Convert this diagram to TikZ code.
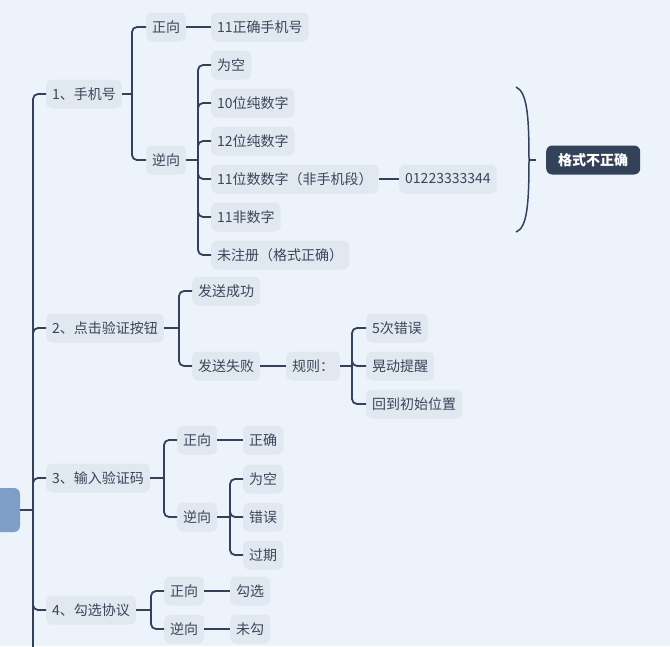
\documentclass[tikz,border=0pt]{standalone}
\usepackage{fontspec}
\setmainfont{Noto Sans CJK SC}
\usetikzlibrary{positioning}
\definecolor{bgc}{RGB}{236,243,250}
\definecolor{nodec}{RGB}{225,232,240}
\definecolor{linec}{RGB}{52,66,89}
\definecolor{rootc}{RGB}{127,158,199}
\definecolor{txtc}{RGB}{58,70,90}

\begin{document}
\begin{tikzpicture}[x=1pt,y=-1pt,
  topic/.style={fill=nodec,rounded corners=6pt,minimum height=29pt,inner xsep=6pt,inner ysep=0pt,anchor=west,text=txtc,font=\fontsize{14pt}{16pt}\selectfont},
  ln/.style={draw=linec,line width=1.8pt},
  br/.style={ln,rounded corners=5pt}]
\clip (0,0) rectangle (670,646);
\fill[bgc] (0,0) rectangle (670,646);
% root, cut off at the left edge
\node[fill=rootc,rounded corners=6pt,minimum width=40pt,minimum height=44pt] (root) at (0,510) {};
% sections
\node[topic] (t1) at (46,94) {1、手机号};
\node[topic] (t2) at (46,328) {2、点击验证按钮};
\node[topic] (t3) at (46,478) {3、输入验证码};
\node[topic] (t4) at (46,610) {4、勾选协议};
% 1
\node[topic] (p1) at (146,27) {正向};
\node[topic] (n1) at (146,160) {逆向};
\node[topic] (p1a) at (211,27) {11正确手机号};
\node[topic] (n1a) at (211,65) {为空};
\node[topic] (n1b) at (211,103) {10位纯数字};
\node[topic] (n1c) at (211,141) {12位纯数字};
\node[topic] (n1d) at (211,179) {11位数数字（非手机段）};
\node[topic] (n1e) at (211,217) {11非数字};
\node[topic] (n1f) at (211,255) {未注册（格式正确）};
\node[topic] (num) at (399,179) {01223333344};
\node[topic,fill=linec,text=white,font=\fontsize{14pt}{16pt}\selectfont\bfseries,inner xsep=12pt] (res) at (546,160) {格式不正确};
% 2
\node[topic] (ok2) at (192,291) {发送成功};
\node[topic] (bad2) at (192,366) {发送失败};
\node[topic] (rule) at (286,366) {规则：};
\node[topic] (r1) at (366,328) {5次错误};
\node[topic] (r2) at (366,366) {晃动提醒};
\node[topic] (r3) at (366,404) {回到初始位置};
% 3
\node[topic] (p3) at (177,440) {正向};
\node[topic] (n3) at (177,517) {逆向};
\node[topic] (p3a) at (243,440) {正确};
\node[topic] (n3a) at (243,479) {为空};
\node[topic] (n3b) at (243,517) {错误};
\node[topic] (n3c) at (243,555) {过期};
% 4
\node[topic] (p4) at (164,591) {正向};
\node[topic] (n4) at (164,629) {逆向};
\node[topic] (p4a) at (230,591) {勾选};
\node[topic] (n4a) at (230,629) {未勾};

% spine points
\coordinate (s0) at (33,510);
\coordinate (s0end) at (33,660);
\coordinate (s1) at (132,94);
\coordinate (s1n) at (198,160);
\coordinate (s2) at (179,328);
\coordinate (s2r) at (352,366);
\coordinate (s3) at (164,478);
\coordinate (s3n) at (230,517);
\coordinate (s4) at (151,610);

% trunk
\draw[ln] (root.east) -- (s0);
\draw[ln] (s0) -- (s0end);
\foreach \t in {t1,t2,t3,t4} \draw[br] (s0) |- (\t.west);
% 1
\draw[ln] (t1.east) -- (s1);
\foreach \c in {p1,n1} \draw[br] (s1) |- (\c.west);
\draw[ln] (p1.east) -- (p1a.west);
\draw[ln] (n1.east) -- (s1n);
\foreach \c in {n1a,n1b,n1c,n1d,n1e,n1f} \draw[br] (s1n) |- (\c.west);
\draw[ln] (n1d.east) -- (num.west);
% bracket
\coordinate (bt) at (516,87);
\coordinate (bm) at (529,160);
\coordinate (bb) at (516,232);
\coordinate (bk) at (536,160);
\draw[draw=linec,line width=1.5pt] (bt) .. controls (527,92) and (529,115) .. (bm) .. controls (529,205) and (527,228) .. (bb);
\draw[draw=linec,line width=1.5pt] (bm) -- (bk);
% 2
\draw[ln] (t2.east) -- (s2);
\foreach \c in {ok2,bad2} \draw[br] (s2) |- (\c.west);
\draw[ln] (bad2.east) -- (rule.west);
\draw[ln] (rule.east) -- (s2r);
\foreach \c in {r1,r2,r3} \draw[br] (s2r) |- (\c.west);
% 3
\draw[ln] (t3.east) -- (s3);
\foreach \c in {p3,n3} \draw[br] (s3) |- (\c.west);
\draw[ln] (p3.east) -- (p3a.west);
\draw[ln] (n3.east) -- (s3n);
\foreach \c in {n3a,n3b,n3c} \draw[br] (s3n) |- (\c.west);
% 4
\draw[ln] (t4.east) -- (s4);
\foreach \c in {p4,n4} \draw[br] (s4) |- (\c.west);
\draw[ln] (p4.east) -- (p4a.west);
\draw[ln] (n4.east) -- (n4a.west);
\end{tikzpicture}
\end{document}
